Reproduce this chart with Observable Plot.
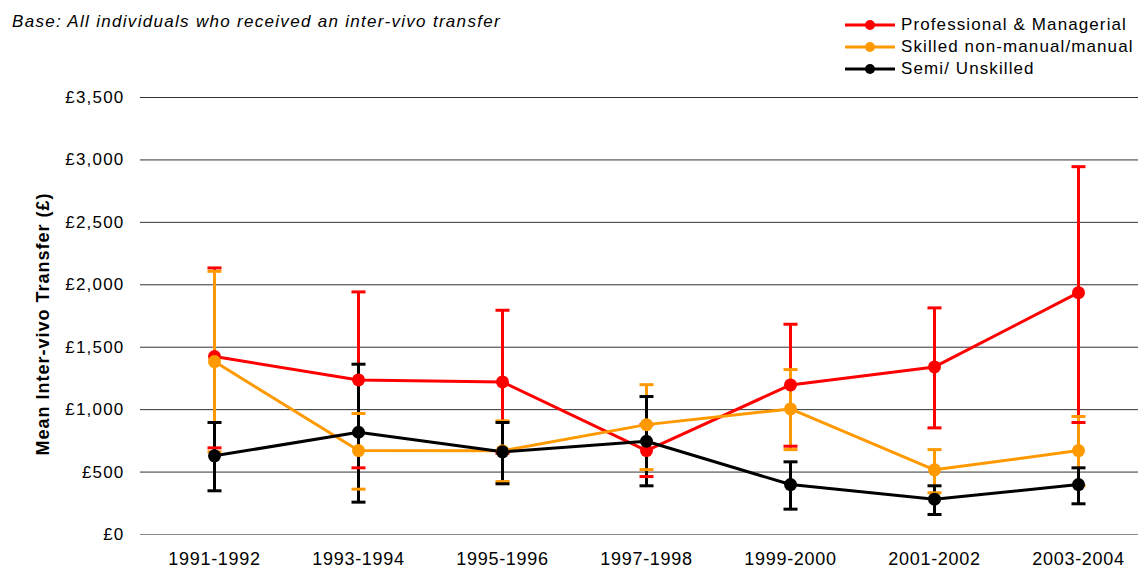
<!DOCTYPE html>
<html>
<head>
<meta charset="utf-8">
<script src="https://cdn.jsdelivr.net/npm/d3@7"></script>
<script src="https://cdn.jsdelivr.net/npm/@observablehq/plot@0.6"></script>
<style>
  html, body { margin: 0; padding: 0; background: #fff; }
  #wrap { position: relative; width: 1138px; height: 570px; font-family: "Liberation Sans", Arial, sans-serif; overflow: hidden; }
  #base { position: absolute; left: 12px; top: 12px; font-size: 17px; letter-spacing: 1.3px; font-style: italic; color: #000; white-space: nowrap; line-height: 20px; }
  #legend { position: absolute; left: 844px; top: 14px; }
  #legend .row { display: flex; align-items: center; height: 22px; font-size: 17px; letter-spacing: 1.1px; color: #000; white-space: nowrap; }
  #legend svg { margin-right: 5px; }
  #chart { position: absolute; left: 0; top: 0; }
</style>
</head>
<body>
<div id="wrap">
  <div id="chart"></div>
  <div id="base">Base: All individuals who received an inter-vivo transfer</div>
  <div id="legend"></div>
</div>
<script>
const categories = ["1991-1992", "1993-1994", "1995-1996", "1997-1998", "1999-2000", "2001-2002", "2003-2004"];
const groups = ["Professional & Managerial", "Skilled non-manual/manual", "Semi/ Unskilled"];
const colors = ["#FF0000", "#FF9900", "#000000"];

const proMean = [1425, 1238, 1222, 672, 1198, 1342, 1937];
const proLow  = [694, 534, 650, 464, 707, 854, 897];
const proHigh = [2135, 1943, 1796, 880, 1684, 1815, 2946];

const skMean = [1385, 672, 670, 880, 1006, 518, 672];
const skLow  = [662, 363, 424, 520, 680, 334, 392];
const skHigh = [2108, 969, 910, 1200, 1321, 680, 945];

const blMean = [630, 819, 662, 747, 400, 283, 400];
const blLow  = [350, 259, 406, 390, 203, 160, 246];
const blHigh = [897, 1364, 897, 1105, 582, 390, 534];

const yTicks = [0, 500, 1000, 1500, 2000, 2500, 3000, 3500];

const seriesMeans = [proMean, skMean, blMean];
const seriesLows = [proLow, skLow, blLow];
const seriesHighs = [proHigh, skHigh, blHigh];

const rows = [];
groups.forEach((g, gi) => {
  categories.forEach((c, ci) => {
    rows.push({period: c, group: g, mean: seriesMeans[gi][ci], low: seriesLows[gi][ci], high: seriesHighs[gi][ci]});
  });
});

const capSymbol = {
  draw(ctx, size) {
    const w = Math.sqrt(size / Math.PI);
    ctx.moveTo(-w, 0);
    ctx.lineTo(w, 0);
  }
};

const fmt = d => "£" + d3.format(",")(d);

const chart = Plot.plot({
  width: 1138,
  height: 570,
  marginLeft: 140,
  marginRight: 0,
  marginTop: 97,
  marginBottom: 36,
  style: {fontFamily: "Liberation Sans, Arial, sans-serif", fontSize: "17px", color: "#000", background: "transparent", overflow: "visible"},
  x: {type: "point", domain: categories, range: [212, 1079], padding: 0, label: null},
  y: {domain: [0, 3500], label: null},
  color: {domain: groups, range: colors},
  marks: [
    Plot.ruleY(yTicks.filter(d => d > 0), {stroke: "#333", strokeWidth: 1}),
    Plot.ruleY([0], {stroke: "#888", strokeWidth: 1.2}),
    Plot.axisY({ticks: yTicks, tickSize: 0, tickPadding: 16, tickFormat: fmt, fontSize: 17, label: null}),
    Plot.axisX({tickSize: 0, tickPadding: 18, fontSize: 18, label: null}),
    Plot.text(["Mean Inter-vivo Transfer (£)"], {frameAnchor: "left", textAnchor: "middle", rotate: -90, dx: -97, dy: 8, fontWeight: "bold", fontSize: 18}),
    Plot.ruleX(rows, {x: "period", y1: "low", y2: "high", stroke: "group", strokeWidth: 3}),
    Plot.dot(rows, {x: "period", y: "low", symbol: capSymbol, r: 7, stroke: "group", fill: "none", strokeWidth: 3}),
    Plot.dot(rows, {x: "period", y: "high", symbol: capSymbol, r: 7, stroke: "group", fill: "none", strokeWidth: 3}),
    Plot.line(rows, {x: "period", y: "mean", z: "group", stroke: "group", strokeWidth: 3}),
    Plot.dot(rows, {x: "period", y: "mean", fill: "group", r: 6.5})
  ]
});
document.getElementById("chart").appendChild(chart);

// widen text spacing to match the reference
chart.querySelectorAll("g[aria-label='y-axis tick label'] text").forEach(t => t.setAttribute("letter-spacing", "1.2"));
chart.querySelectorAll("g[aria-label='x-axis tick label'] text").forEach(t => t.setAttribute("letter-spacing", "0.7"));
chart.querySelectorAll("g[aria-label='text'] text").forEach(t => t.setAttribute("letter-spacing", "1"));

const legend = document.getElementById("legend");
groups.forEach((g, i) => {
  const row = document.createElement("div");
  row.className = "row";
  row.innerHTML = `<svg width="52" height="12"><line x1="1" y1="6" x2="51" y2="6" stroke="${colors[i]}" stroke-width="3"/><circle cx="26" cy="6" r="5" fill="${colors[i]}"/></svg><span>${g}</span>`;
  legend.appendChild(row);
});
</script>
</body>
</html>
